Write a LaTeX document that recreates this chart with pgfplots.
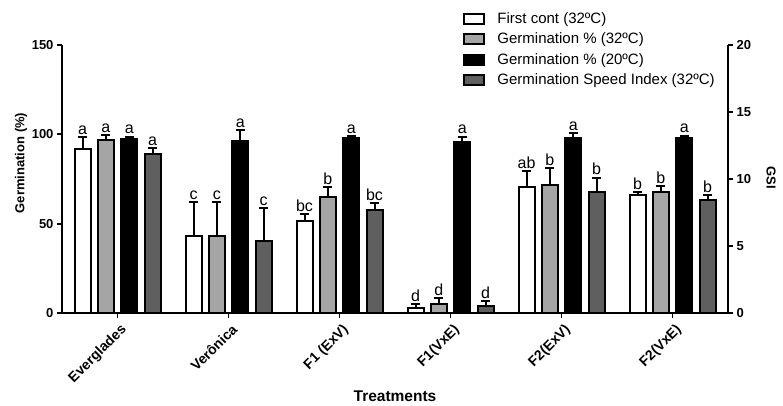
\documentclass[border=0pt]{standalone}
\usepackage{pgfplots}
\usepackage{pgfplotstable}
\pgfplotsset{compat=1.18}
\usepackage{fontspec}
\setmainfont{Liberation Sans}
\definecolor{lgray}{RGB}{165,165,165}
\definecolor{dgray}{RGB}{95,95,95}

% x = category index, y = mean, e = upper error, lab = letter
\pgfplotstableread{
x y e lab
0 91.8 6.7 a
1 43.0 19.0 c
2 51.5 3.9 bc
3 2.8 2.2 d
4 70.5 9.0 ab
5 66.0 1.7 b
}\tfirst
\pgfplotstableread{
x y e lab
0 97.0 2.6 a
1 43.0 19.0 c
2 65.0 5.5 b
3 5.0 3.4 d
4 71.6 9.4 b
5 67.7 3.3 b
}\tgerm
\pgfplotstableread{
x y e lab
0 97.5 1.2 a
1 96.0 6.5 a
2 98.0 1.0 a
3 95.9 2.8 a
4 98.0 2.7 a
5 97.8 1.5 a
}\tgtw
\pgfplotstableread{
x y e lab
0 11.9 0.4 a
1 5.4 2.4 c
2 7.7 0.5 bc
3 0.5 0.4 d
4 9.0 1.1 b
5 8.4 0.4 b
}\tgsi

\begin{document}
\begin{tikzpicture}
\path[use as bounding box] (0,0) rectangle (783pt,405pt);
\pgfplotsset{
  common/.style={
    at={(62pt,92pt)}, anchor=south west,
    scale only axis, width=666pt, height=268pt,
    xmin=-0.5, xmax=5.5, ymin=0, clip=false,
    axis line style={line width=2pt, black},
    tick style={line width=1.8pt, black},
    major tick length=5pt, tick align=outside,
    ticklabel style={font=\bfseries\fontsize{13}{13}\selectfont},
    /pgf/number format/assume math mode=true,
  },
  bars/.style={ybar, bar width=16pt, bar shift=0pt, draw=black, line width=2pt,
    /pgfplots/error bars/y dir=plus, /pgfplots/error bars/y explicit,
    /pgfplots/error bars/error bar style={line width=2pt, black},
    /pgfplots/error bars/error mark options={rotate=90, mark size=4.5pt, line width=2pt, black}},
  lets/.style={draw=none, mark=none, forget plot, nodes near coords,
    point meta=explicit symbolic,
    nodes near coords style={font=\fontsize{16}{16}\selectfont, anchor=south, inner sep=0pt, yshift=2.5pt, text=black}},
}
\begin{axis}[common,
  axis x line*=bottom, axis y line*=left,
  ymax=150, ytick={0,50,100,150},
  xtick={0,1,2,3,4,5},
  xticklabels={Everglades,Verônica,F1 (ExV),F1(VxE),F2(ExV),F2(VxE)},
  x tick label style={rotate=45, anchor=north east, inner sep=2pt, yshift=-3pt,
    font=\bfseries\fontsize{14}{14}\selectfont},
  ylabel={Germination (\%)},
  xlabel={Treatments},
  every axis y label/.style={at={(axis description cs:-0.0616,0.56)}, anchor=center, rotate=90, font=\bfseries\fontsize{13}{13}\selectfont},
  every axis x label/.style={at={(axis description cs:0.5,-0.31)}, anchor=center, font=\bfseries\fontsize{15.5}{15.5}\selectfont},
  legend image code/.code={\draw[#1, line width=2pt] (0pt,-5pt) rectangle (20pt,5pt);},
  legend style={at={(axis description cs:0.6025,1.125)}, anchor=north west, draw=none, fill=none,
    font=\fontsize{15}{15}\selectfont, row sep=6pt, inner sep=0pt,
    nodes={inner sep=1pt},
    /tikz/every odd column/.style={column sep=11pt}},
  legend cell align=left,
]
\addplot[bars, fill=white, forget plot] table[x expr=\thisrow{x}-0.3153, y=y, y error=e] \tfirst;
\addplot[bars, fill=lgray, forget plot] table[x expr=\thisrow{x}-0.1054, y=y, y error=e] \tgerm;
\addplot[bars, fill=black, forget plot] table[x expr=\thisrow{x}+0.1054, y=y, y error=e] \tgtw;
\addplot[lets] table[x expr=\thisrow{x}-0.3153, y expr=\thisrow{y}+\thisrow{e}, meta=lab] \tfirst;
\addplot[lets] table[x expr=\thisrow{x}-0.1054, y expr=\thisrow{y}+\thisrow{e}, meta=lab] \tgerm;
\addplot[lets] table[x expr=\thisrow{x}+0.1054, y expr=\thisrow{y}+\thisrow{e}, meta=lab] \tgtw;
\addlegendimage{draw=black, fill=white}
\addlegendentry{First cont (32ºC)}
\addlegendimage{draw=black, fill=lgray}
\addlegendentry{Germination \% (32ºC)}
\addlegendimage{draw=black, fill=black}
\addlegendentry{Germination \% (20ºC)}
\addlegendimage{draw=black, fill=dgray}
\addlegendentry{Germination Speed Index (32ºC)}
\end{axis}
\begin{axis}[common,
  axis x line=none, axis y line*=right,
  ymax=20, ytick={0,5,10,15,20},
  ylabel={GSI},
  every axis y label/.style={at={(axis description cs:1.0646,0.504)}, anchor=center, rotate=-90, font=\bfseries\fontsize{13}{13}\selectfont},
]
\addplot[bars, fill=dgray, forget plot] table[x expr=\thisrow{x}+0.3153, y=y, y error=e] \tgsi;
\addplot[lets] table[x expr=\thisrow{x}+0.3153, y expr=\thisrow{y}+\thisrow{e}, meta=lab] \tgsi;
\end{axis}
\end{tikzpicture}
\end{document}
